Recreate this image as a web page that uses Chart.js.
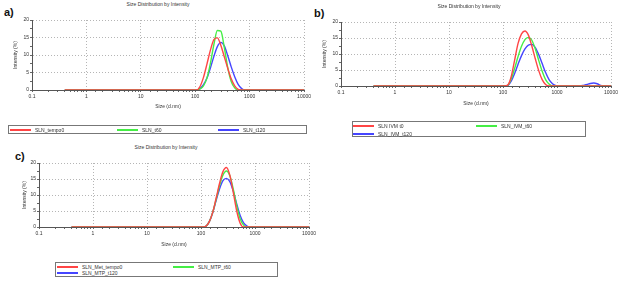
<!DOCTYPE html>
<html lang="en">

<head>
    <meta charset="UTF-8">
    <title>Size Distribution by Intensity</title>
    <style>
        body {
            margin: 0;
            width: 621px;
            height: 282px;
            position: relative;
            overflow: hidden;
            background: #fff;
            font-family: "Liberation Sans", Arial, sans-serif;
        }

        canvas {
            position: absolute;
        }

        .tag {
            position: absolute;
            font-size: 11px;
            line-height: 11px;
            font-weight: bold;
            color: #111;
        }

        .ttl {
            position: absolute;
            width: 120px;
            font-size: 5px;
            line-height: 6px;
            text-align: center;
            color: #333;
        }

        .legend {
            position: absolute;
            border: 1px solid #777;
            box-sizing: border-box;
        }

        .item {
            position: absolute;
            height: 6px;
            font-size: 5px;
            line-height: 6px;
            color: #333;
            white-space: nowrap;
        }

        .item i {
            position: absolute;
            display: block;
            left: 0;
            top: 2px;
            width: 21px;
            height: 2px;
        }

        .item span {
            position: absolute;
            left: 25px;
        }
    </style>
</head>

<body>
    <div class="tag" style="left:4px; top:7px;">a)</div>
    <div class="ttl" style="left:98px; top:1px;">Size Distribution by Intensity</div>
    <canvas id="chartA" width="313" height="118" style="left:0px; top:0px;"></canvas>
    <div class="legend" style="left:8px; top:125px; width:299px; height:9px;"></div>

    <div class="tag" style="left:314px; top:8px;">b)</div>
    <div class="ttl" style="left:409px; top:3px;">Size Distribution by Intensity</div>
    <canvas id="chartB" width="311" height="112" style="left:310px; top:0px;"></canvas>
    <div class="legend" style="left:352px; top:121px; width:234px; height:16px;"></div>

    <div class="tag" style="left:15px; top:151px;">c)</div>
    <div class="ttl" style="left:106px; top:144px;">Size Distribution by Intensity</div>
    <canvas id="chartC" width="320" height="112" style="left:0px; top:140px;"></canvas>
    <div class="legend" style="left:55px; top:262px; width:223px; height:15px;"></div>

    <script src="https://cdn.jsdelivr.net/npm/chart.js@4.4.1/dist/chart.umd.min.js"></script>
    <script>
        // size bins (d.nm), shared by every series
        const sizes = [0.4, 105.7, 122.4, 141.8, 164.2, 190.1, 220.2, 255.0, 295.3, 342.0, 396.1, 458.7, 531.2, 615.1,
            712.4, 825.0, 955.4, 1106, 1281, 2669, 3091, 3580, 4145, 4801, 5560, 6439, 7456, 10000];

        const xTicks = [0.1, 1, 10, 100, 1000, 10000];
        const yTicks = [0, 5, 10, 15, 20];
        const colors = ["#ff4545", "#45ee45", "#4545ff"];

        // a)
        const aNames = ["SLN_tempo0", "SLN_t60", "SLN_t120"];
        const aTempo0 = [0, 0, 1.0, 3.6, 7.4, 11.4, 14.4, 14.9, 12.8, 9.5, 6.2, 3.2, 1.2, 0.2, 0, 0, 0, 0, 0, 0, 0, 0, 0, 0, 0, 0, 0, 0];
        const aT60 = [0, 0, 0.3, 1.2, 3.4, 7.6, 13.0, 17.0, 16.8, 12.2, 6.4, 2.4, 0.6, 0, 0, 0, 0, 0, 0, 0, 0, 0, 0, 0, 0, 0, 0, 0];
        const aT120 = [0, 0, 0.4, 1.5, 3.4, 6.3, 9.6, 12.4, 13.6, 12.6, 9.8, 6.6, 3.8, 1.6, 0.4, 0, 0, 0, 0, 0, 0, 0, 0, 0, 0, 0, 0, 0];

        // b)
        const bNames = ["SLN IVM t0", "SLN_IVM_t60", "SLN_IVM_t120"];
        const bT0 = [0, 0, 0.3, 2.9, 8.1, 13.3, 16.3, 17.2, 15.9, 12.5, 8.5, 4.8, 2.0, 0.5, 0, 0, 0, 0, 0, 0, 0, 0, 0, 0, 0, 0, 0, 0];
        const bT60 = [0, 0, 0.2, 2.2, 5.5, 9.2, 12.4, 14.5, 15.2, 14.3, 11.6, 8.0, 4.6, 2.0, 0.6, 0, 0, 0, 0, 0, 0, 0, 0, 0, 0, 0, 0, 0];
        const bT120 = [0, 0, 0.1, 1.5, 3.9, 6.8, 9.5, 11.6, 12.8, 13.0, 12.0, 9.8, 7.0, 4.2, 2.0, 0.7, 0.1, 0, 0, 0, 0.2, 0.5, 0.8, 0.95, 0.7, 0.2, 0, 0];

        // c)
        const cNames = ["SLN_Met_tempo0", "SLN_MTP_t60", "SLN_MTP_t120"];
        const cTempo0 = [0, 0, 0.2, 1.6, 4.5, 8.9, 13.6, 17.3, 18.6, 16.2, 10.8, 5.0, 1.2, 0, 0, 0, 0, 0, 0, 0, 0, 0, 0, 0, 0, 0, 0, 0];
        const cT60 = [0, 0, 0.2, 1.6, 4.5, 8.6, 12.9, 16.2, 17.5, 16.0, 11.8, 6.6, 2.6, 0.6, 0, 0, 0, 0, 0, 0, 0, 0, 0, 0, 0, 0, 0, 0];
        const cT120 = [0, 0, 0.2, 1.6, 4.4, 8.2, 11.9, 14.5, 15.2, 14.2, 11.2, 7.2, 3.6, 1.3, 0.3, 0, 0, 0, 0, 0, 0, 0, 0, 0, 0, 0, 0, 0];

        Chart.defaults.font.family = "'Liberation Sans', Arial, sans-serif";
        Chart.defaults.font.size = 5;
        Chart.defaults.color = "#333";

        const isDecade = (v) => {
            const l = Math.log10(v);
            return Math.abs(l - Math.round(l)) < 1e-6;
        };

        function makeChart(id, names, series, g) {
            new Chart(document.getElementById(id), {
                type: "line",
                data: {
                    datasets: series.map((s, i) => ({
                        label: names[i],
                        data: sizes.map((x, k) => ({ x: x, y: s[k] })),
                        borderColor: colors[i],
                        borderWidth: 1.4,
                        pointRadius: 0,
                        cubicInterpolationMode: "monotone",
                        fill: false,
                    })),
                },
                options: {
                    responsive: false,
                    animation: false,
                    events: [],
                    layout: { padding: { left: 0, top: g.top, right: g.right, bottom: 0 } },
                    plugins: { legend: { display: false }, title: { display: false }, tooltip: { enabled: false } },
                    scales: {
                        x: {
                            type: "logarithmic",
                            min: 0.1,
                            max: 10000,
                            afterFit: (s) => { s.height = g.xh; },
                            ticks: {
                                autoSkip: false,
                                maxRotation: 0,
                                minRotation: 0,
                                padding: 2,
                                callback: (v) => (isDecade(v) && xTicks.includes(Number(v.toPrecision(3))) ? String(Number(v.toPrecision(3))) : ""),
                            },
                            grid: {
                                color: (c) => (c.tick && isDecade(c.tick.value) && c.tick.value > 0.1 ? "#b5b5b5" : "rgba(0,0,0,0)"),
                                tickColor: "#666",
                                tickLength: 2,
                                lineWidth: 1,
                            },
                            border: { color: "#555", dash: [1, 2] },
                            title: { display: true, text: "Size (d.nm)", padding: { top: 0, bottom: g.xtb } },
                        },
                        y: {
                            min: 0,
                            max: 20,
                            afterFit: (s) => { s.width = g.yw; },
                            ticks: {
                                stepSize: 2.5,
                                autoSkip: false,
                                padding: 1,
                                callback: (v) => (yTicks.includes(v) ? String(v) : ""),
                            },
                            grid: {
                                color: (c) => (c.tick && yTicks.includes(c.tick.value) && c.tick.value > 0 ? "#b5b5b5" : "rgba(0,0,0,0)"),
                                tickColor: "#666",
                                tickLength: 2,
                                lineWidth: 1,
                            },
                            border: { color: "#555", dash: [1, 2] },
                            title: { display: true, text: "Intensity (%)", padding: { top: g.ytp, bottom: 0 } },
                        },
                    },
                },
            });
        }

        function makeLegend(names, spots) {
            names.forEach((n, i) => {
                const d = document.createElement("div");
                d.className = "item";
                d.style.left = spots[i][0] + "px";
                d.style.top = (spots[i][1] - 3) + "px";
                const line = document.createElement("i");
                line.style.backgroundColor = colors[i];
                const txt = document.createElement("span");
                txt.textContent = n;
                d.appendChild(line);
                d.appendChild(txt);
                document.body.appendChild(d);
            });
        }

        makeChart("chartA", aNames, [aTempo0, aT60, aT120], { top: 20, right: 8, xh: 28, xtb: 8, yw: 32, ytp: 12.7 });
        makeChart("chartB", bNames, [bT0, bT60, bT120], { top: 22, right: 10, xh: 26, xtb: 5.7, yw: 31, ytp: 12 });
        makeChart("chartC", cNames, [cTempo0, cT60, cT120], { top: 23, right: 11, xh: 25, xtb: 4, yw: 39, ytp: 21.5 });

        makeLegend(aNames, [[10, 129.5], [117, 129.5], [218, 129.5]]);
        makeLegend(bNames, [[353, 125.5], [476, 125.5], [353, 133.5]]);
        makeLegend(cNames, [[57, 266.5], [173, 266.5], [57, 273]]);
    </script>
</body>

</html>
